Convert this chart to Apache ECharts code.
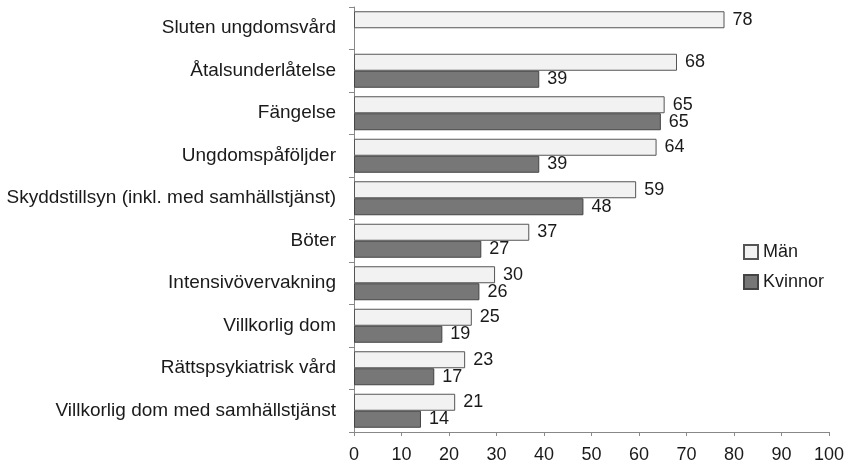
<!DOCTYPE html>
<html>
<head>
<meta charset="utf-8">
<script src="https://cdn.jsdelivr.net/npm/echarts@6/dist/echarts.min.js"></script>
<style>
  html, body { margin: 0; padding: 0; background: #fff; }
  #chart { width: 852px; height: 471px; }
</style>
</head>
<body>
<div id="chart"></div>
<script>
// påföljder, uppifrån och ned
const categories = [
  'Sluten ungdomsvård',
  'Åtalsunderlåtelse',
  'Fängelse',
  'Ungdomspåföljder',
  'Skyddstillsyn (inkl. med samhällstjänst)',
  'Böter',
  'Intensivövervakning',
  'Villkorlig dom',
  'Rättspsykiatrisk vård',
  'Villkorlig dom med samhällstjänst'
]
const man = [78, 68, 65.4, 63.7, 59.4, 36.9, 29.7, 24.8, 23.4, 21.3]
const kvinnor = [null, 39, 64.6, 39, 48.3, 26.8, 26.4, 18.6, 16.9, 14.1]
const xTicks = [0, 100, 10]  // min, max, interval

const chart = echarts.init(document.getElementById('chart'))

const font = {fontFamily: 'Liberation Sans, Arial, sans-serif', fontSize: 18, color: '#1a1a1a'}

const barLabel = {
  show: true,
  position: 'right',
  distance: 8,
  ...font,
  formatter: p => Math.round(p.value)
}

chart.setOption({
  animation: false,
  grid: {left: 354, right: 23, top: 7, bottom: 39},
  legend: {
    orient: 'vertical',
    left: 738,
    top: 238,
    icon: 'rect',
    itemWidth: 14,
    itemHeight: 14,
    itemGap: 12,
    textStyle: {...font},
    data: ['Män', 'Kvinnor']
  },
  xAxis: {
    type: 'value',
    min: xTicks[0],
    max: xTicks[1],
    interval: xTicks[2],
    splitLine: {show: false},
    axisLine: {show: true, lineStyle: {color: '#888', width: 1}},
    axisTick: {show: true, length: 4, lineStyle: {color: '#888'}},
    axisLabel: {...font, margin: 14}
  },
  yAxis: {
    type: 'category',
    inverse: true,
    data: categories,
    axisLine: {show: true, lineStyle: {color: '#888', width: 1}},
    axisTick: {show: true, length: 5, lineStyle: {color: '#888'}},
    axisLabel: {...font, fontSize: 19, margin: 18}
  },
  series: [
    {
      name: 'Män',
      type: 'bar',
      data: man,
      barGap: '0%',
      barCategoryGap: '20%',
      itemStyle: {color: '#f2f2f2', borderColor: '#555', borderWidth: 1},
      label: barLabel
    },
    {
      name: 'Kvinnor',
      type: 'bar',
      data: kvinnor,
      itemStyle: {color: '#777', borderColor: '#444', borderWidth: 1},
      label: barLabel
    }
  ]
})
</script>
</body>
</html>
